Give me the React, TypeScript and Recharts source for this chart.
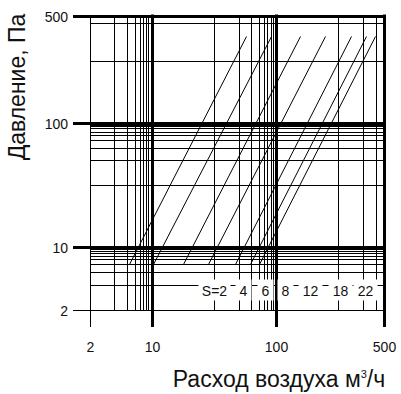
import React from 'react';
import { ScatterChart, Scatter, XAxis, YAxis, ReferenceLine, ReferenceDot } from 'recharts';

// section sizes of the curves, left to right
const sections = [2, 4, 6, 8, 12, 18, 22];
// air flow (m3/h) where each curve starts (5 Pa) and ends (300 Pa)
const flowAtStart = [4.3, 10.2, 15.1, 19.1, 28.3, 39.4, 50.7];
const flowAtEnd = [36, 80, 139, 178, 252, 324, 397];
const pressureEnds = [5, 300];

// where the "S=..." captions sit
const captionFlow = [20, 33, 63, 115, 154, 205, 315];
const captionPressure = 2.8;

const axisTicks = [2, 10, 100, 500];
const majorLines = [10, 100, 500];
const flowGrid = [3, 4, 5, 6, 7, 8, 9, 20, 30, 40, 50, 60, 70, 80, 90, 200, 300, 400];
const pressureGrid = [3, 4, 5, 6, 7, 8, 9, 9.5, 20, 30, 40, 50, 60, 70, 80, 90, 95, 200, 400];

// the nomogram divides every decade with the same mantissa pattern (not a true log)
const MANTISSA = [1, 2, 3, 4, 5, 6, 7, 8, 9, 10];
const MANTISSA_POS = [0, 0.5, 0.7, 0.8, 0.863, 0.903, 0.93, 0.955, 0.972, 1];

const decadePos = (v: number) => {
  const d = Math.floor(Math.log10(v) + 1e-9);
  const m = v / Math.pow(10, d);
  let i = 0;
  while (i < MANTISSA.length - 2 && m > MANTISSA[i + 1]) i++;
  const t = (m - MANTISSA[i]) / (MANTISSA[i + 1] - MANTISSA[i]);
  return d + MANTISSA_POS[i] + t * (MANTISSA_POS[i + 1] - MANTISSA_POS[i]);
};

function nomoScale(dom: number[] = [2, 500], rng: number[] = [0, 1]): any {
  const scale: any = (v: any) => {
    const n = Number(v);
    if (!(n > 0)) return NaN;
    const p0 = decadePos(dom[0]);
    const p1 = decadePos(dom[1]);
    const raw = rng[0] + ((decadePos(n) - p0) / (p1 - p0)) * (rng[1] - rng[0]);
    return Math.floor(raw) + 0.5; // snap to pixel so the grid stays crisp
  };
  scale.domain = (d?: any[]) => {
    if (d === undefined) return dom.slice();
    dom = d.map(Number);
    return scale;
  };
  scale.range = (r?: any[]) => {
    if (r === undefined) return rng.slice();
    rng = r.map(Number);
    return scale;
  };
  scale.copy = () => nomoScale(dom.slice(), rng.slice());
  scale.ticks = () => axisTicks.slice();
  scale.tickFormat = () => (v: number) => String(v);
  return scale;
}

const xScale = nomoScale();
const yScale = nomoScale();

const curves = sections.map((s, i) => ({
  s,
  points: [
    { q: flowAtStart[i], p: pressureEnds[0] },
    { q: flowAtEnd[i], p: pressureEnds[1] },
  ],
}));

const FONT = "'Liberation Sans', Arial, sans-serif";
const TICK = 17;

const YTick = (props: any) => {
  const { x, y, payload } = props;
  const w = payload.value === 2 ? 1 : 3;
  return (
    <g>
      <line x1={x + 5} x2={x + 5 + TICK} y1={y} y2={y} stroke="#000" strokeWidth={w} />
      <text x={x} y={y + 5} textAnchor="end" fontSize={14} fontFamily={FONT} fill="#111">
        {payload.value}
      </text>
    </g>
  );
};

const XTick = (props: any) => {
  const { x, y, payload } = props;
  const w = payload.value === 2 ? 1 : 3;
  return (
    <g>
      <line x1={x} x2={x} y1={y - 10 - TICK} y2={y - 10} stroke="#000" strokeWidth={w} />
      <text x={x} y={y + 15} textAnchor="middle" fontSize={14} fontFamily={FONT} fill="#111">
        {payload.value}
      </text>
    </g>
  );
};

const Caption = (props: any) => {
  const { cx, cy, text } = props;
  const w = text.length * 8 + 8;
  return (
    <g>
      <rect x={cx - w / 2} y={cy - 11} width={w} height={21} fill="#fff" />
      <text x={cx} y={cy + 5} textAnchor="middle" fontSize={14} fontFamily={FONT} fill="#111">
        {text}
      </text>
    </g>
  );
};

export default function App() {
  return (
    <div style={{ position: 'relative', width: 401, height: 394, background: '#fff' }}>
      <style>{'body{margin:0}'}</style>
      <ScatterChart width={401} height={394} margin={{ top: 16, right: 17, bottom: 0, left: 0 }}>
        <XAxis
          type="number"
          dataKey="q"
          scale={xScale}
          domain={[2, 500]}
          allowDataOverflow
          ticks={axisTicks}
          interval={0}
          height={84}
          tickSize={TICK}
          tickMargin={10}
          tickLine={false}
          axisLine={false}
          tick={XTick}
        />
        <YAxis
          type="number"
          dataKey="p"
          scale={yScale}
          domain={[2, 500]}
          allowDataOverflow
          ticks={axisTicks}
          interval={0}
          width={90}
          tickSize={TICK}
          tickMargin={5}
          tickLine={false}
          axisLine={false}
          tick={YTick}
        />
        {flowGrid.map((v) => (
          <ReferenceLine key={'fx' + v} x={v} stroke="#000" strokeWidth={1} ifOverflow="visible" />
        ))}
        {pressureGrid.map((v) => (
          <ReferenceLine key={'py' + v} y={v} stroke="#000" strokeWidth={1} ifOverflow="visible" />
        ))}
        <ReferenceLine x={2} stroke="#000" strokeWidth={1} ifOverflow="visible" />
        <ReferenceLine y={2} stroke="#000" strokeWidth={1} ifOverflow="visible" />
        {majorLines.map((v) => (
          <ReferenceLine key={'mx' + v} x={v} stroke="#000" strokeWidth={3} strokeLinecap="square" ifOverflow="visible" />
        ))}
        {majorLines.map((v) => (
          <ReferenceLine key={'my' + v} y={v} stroke="#000" strokeWidth={3} strokeLinecap="square" ifOverflow="visible" />
        ))}
        {curves.map((c) => (
          <Scatter
            key={c.s}
            data={c.points}
            line={{ stroke: '#000', strokeWidth: 1 }}
            shape={() => <g />}
            isAnimationActive={false}
          />
        ))}
        {sections.map((s, i) => (
          <ReferenceDot
            key={'cap' + s}
            x={captionFlow[i]}
            y={captionPressure}
            ifOverflow="visible"
            shape={(p: any) => <Caption {...p} text={i === 0 ? `S=${s}` : String(s)} />}
          />
        ))}
      </ScatterChart>
      <svg width={401} height={394} style={{ position: 'absolute', left: 0, top: 0, pointerEvents: 'none' }}>
        <text transform="translate(25,87) rotate(-90)" textAnchor="middle" fontSize={23} fontFamily={FONT} fill="#111">
          Давление, Па
        </text>
        <text x={279} y={387} textAnchor="middle" fontSize={23} fontFamily={FONT} fill="#111">
          Расход воздуха м
          <tspan dy={-9} fontSize={11}>3</tspan>
          <tspan dy={9}>/ч</tspan>
        </text>
      </svg>
    </div>
  );
}
